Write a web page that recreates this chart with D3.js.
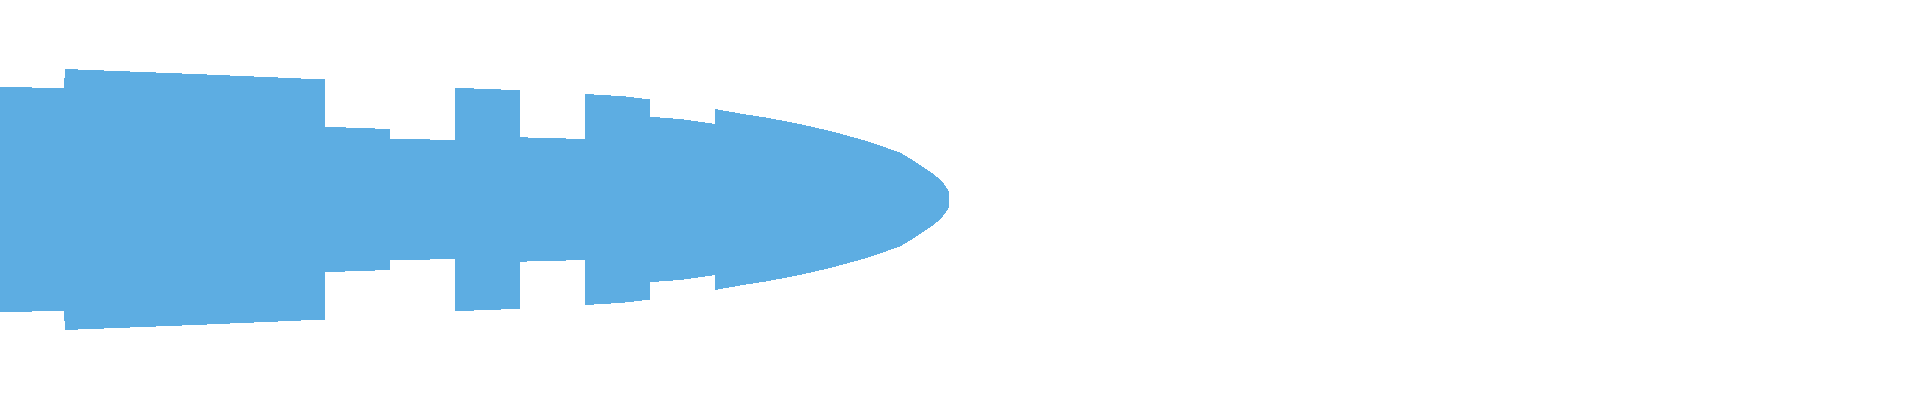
<!DOCTYPE html>
<html>
<head>
<meta charset="utf-8">
<script src="https://cdn.jsdelivr.net/npm/d3@7"></script>
<style>
  body { margin: 0; background: #ffffff; }
  svg { display: block; }
</style>
</head>
<body>
<div id="chart"></div>
<script>
// outline of the shape: position along the axis and half width at that point
var positions = [
  0, 64,
  65, 195, 325,
  325, 390,
  390, 455,
  455, 520,
  520, 585,
  585, 623, 650,
  650, 680, 715,
  715, 746, 767, 800, 833, 867, 900, 917, 926, 933, 940, 943, 946, 949
];
var halfWidths = [
  112.7, 111.3,
  130.5, 125.5, 120,
  72.7, 70.5,
  60.8, 59.5,
  111.7, 109.3,
  62.2, 60.5,
  105.5, 103.3, 100,
  82.7, 80.5, 75.5,
  90.5, 85, 81.8, 75.5, 67.8, 58.4, 47, 36.7, 30.5, 25.8, 20, 16.7, 12.5, 8
];

var width = 1920,
  height = 400;

var svg = d3
  .select("#chart")
  .append("svg")
  .attr("width", width)
  .attr("height", height);

var x = d3.scaleLinear().domain([0, width]).range([0, width]);
var y = d3.scaleLinear().domain([-200, 200]).range([height - 0.5, -0.5]);

var data = positions.map(function (p, i) {
  return { pos: p, half: halfWidths[i] };
});

var area = d3
  .area()
  .x(function (d) {
    return x(d.pos);
  })
  .y0(function (d) {
    return y(-d.half);
  })
  .y1(function (d) {
    return y(d.half);
  })
  .curve(d3.curveLinear);

svg
  .append("path")
  .datum(data)
  .attr("d", area)
  .attr("fill", "#5dade2")
  .attr("shape-rendering", "crispEdges");
</script>
</body>
</html>
